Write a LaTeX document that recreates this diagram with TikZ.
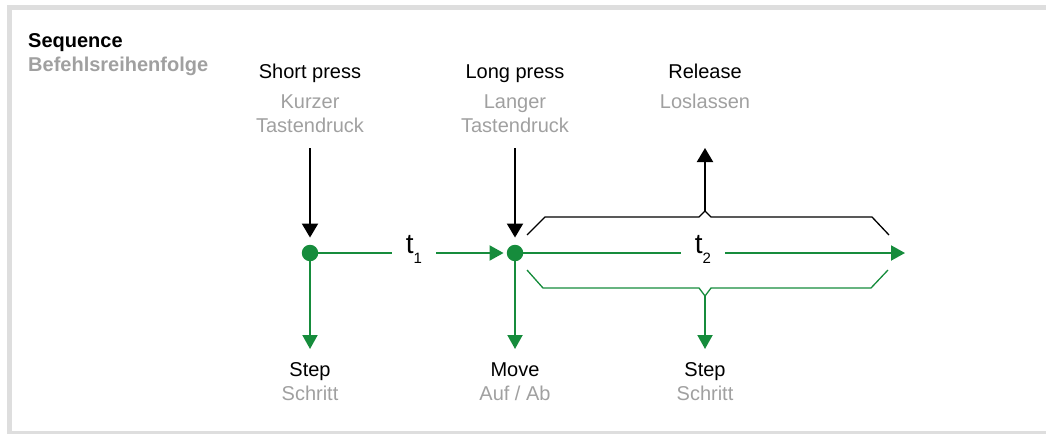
\documentclass[tikz,border=0pt]{standalone}
\usepackage{fontspec}
\setmainfont{Liberation Sans}
\usetikzlibrary{arrows.meta}
\definecolor{gr}{RGB}{22,140,60}
\definecolor{lbl}{RGB}{160,160,160}
\definecolor{frm}{RGB}{222,222,222}
\tikzset{
  main/.style={font=\fontsize{20}{24}\selectfont, text=black, inner sep=0pt, anchor=base},
  sub/.style={font=\fontsize{20}{24}\selectfont, text=lbl, inner sep=0pt, anchor=base},
  dot/.style={circle, fill=gr, minimum size=16.5pt, inner sep=0pt},
  tlab/.style={font=\fontsize{28}{28}\selectfont, inner sep=0pt, minimum width=44pt},
  blkarrow/.style={draw=black, line width=2pt, -{Triangle[length=14pt,width=16pt]}},
  grarrow/.style={draw=gr, line width=2pt, -{Triangle[length=14pt,width=15pt]}},
  grline/.style={draw=gr, line width=2pt},
  brace/.style={line width=1.3pt},
}
\begin{document}
\begin{tikzpicture}[x=1pt,y=-1pt]
\useasboundingbox (0,0) rectangle (1046,434);
% frame
\draw[frm, line width=5pt] (7,7.5) -- (1046,7.5);
\draw[frm, line width=5pt] (9.5,5) -- (9.5,434);
\draw[frm, line width=2.5pt] (7,432.5) -- (1046,432.5);
% title
\node[main, anchor=base west, font=\fontsize{20}{24}\selectfont\bfseries] (title) at (28,47) {Sequence};
\node[sub, anchor=base west, font=\fontsize{20}{24}\selectfont\bfseries] (titlede) at (28,71) {Befehlsreihenfolge};
% top labels
\node[main] (sp) at (310,78) {Short press};
\node[sub] (spa) at (310,108) {Kurzer};
\node[sub] (spb) at (310,132) {Tastendruck};
\node[main] (lp) at (515,78) {Long press};
\node[sub] (lpa) at (515,108) {Langer};
\node[sub] (lpb) at (515,132) {Tastendruck};
\node[main] (rl) at (705,78) {Release};
\node[sub] (rla) at (705,108) {Loslassen};
% bottom labels
\node[main] (st1) at (310,376) {Step};
\node[sub] (st1a) at (310,400) {Schritt};
\node[main] (mv) at (515,376) {Move};
\node[sub] (mva) at (515,400) {Auf / Ab};
\node[main] (st2) at (705,376) {Step};
\node[sub] (st2a) at (705,400) {Schritt};
% dots
\node[dot] (d1) at (310,253) {};
\node[dot] (d2) at (515,253) {};
% t labels
\node[tlab] (t1) at (414,249) {t\raisebox{-10pt}{\fontsize{15}{15}\selectfont 1}};
\node[tlab] (t2) at (703,249) {t\raisebox{-10pt}{\fontsize{15}{15}\selectfont 2}};
\coordinate (end) at (905,253);
% coordinates for arrow ends
\coordinate (a1s) at (310,148);
\coordinate (a2s) at (515,148);
\coordinate (b1e) at (310,349);
\coordinate (b2e) at (515,349);
\coordinate (b3e) at (705,349);
\coordinate (rtip) at (705,148);
% black input arrows
\draw[blkarrow, shorten >=7pt] (a1s) -- (d1);
\draw[blkarrow, shorten >=7pt] (a2s) -- (d2);
% timeline
\draw[grline] (d1) -- (t1.west |- d1);
\draw[grarrow, shorten >=3pt] (t1.east |- d1) -- (d2);
\draw[grline] (d2) -- (t2.west |- d2);
\draw[grarrow] (t2.east |- d2) -- (end);
% down arrows
\draw[grarrow] (d1) -- (b1e);
\draw[grarrow] (d2) -- (b2e);
% upper brace
\coordinate (ub) at (705,211);
\draw[brace] (527,235) -- (545,217) -- (699,217) -- (ub) -- (711,217) -- (872,217) -- (889,235);
\draw[blkarrow] (ub) -- (rtip);
% lower brace
\coordinate (lb) at (705,296);
\draw[brace, gr] (527,270) -- (543,288) -- (699,288) -- (lb) -- (711,288) -- (871,288) -- (888,270);
\draw[grarrow] (lb) -- (b3e);
\end{tikzpicture}
\end{document}
